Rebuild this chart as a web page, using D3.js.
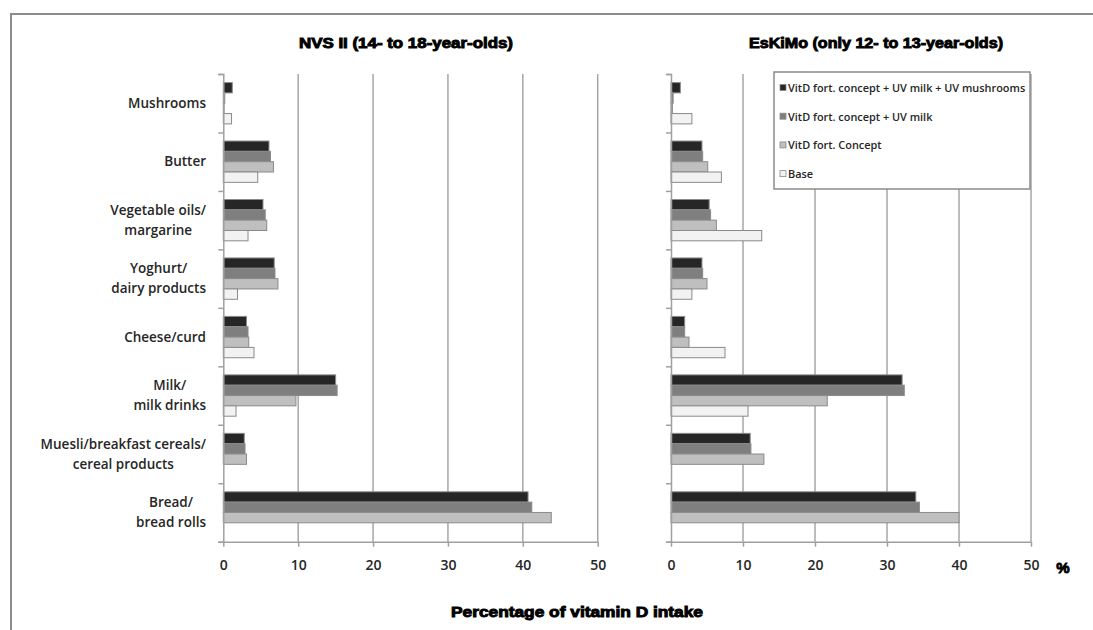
<!DOCTYPE html>
<html>
<head>
<meta charset="utf-8">
<script src="https://cdn.jsdelivr.net/npm/d3@7"></script>
<style>
  body { margin: 0; background: #fff; }
  svg { display: block; }
  .lbl { font-family: "Open Sans", sans-serif; font-weight: 600; fill: #262626; }
  .ttl { font-family: "Liberation Sans", Arial, sans-serif; font-weight: bold; fill: #000; stroke: #000; stroke-width: 0.9; }
</style>
</head>
<body>
<svg id="chart" width="1093" height="630"></svg>
<script>
const width = 1093;
const height = 630;

const categories = ["Mushrooms", "Butter", "Vegetable oils/\nmargarine", "Yoghurt/\ndairy products",
    "Cheese/curd", "Milk/\nmilk drinks", "Muesli/breakfast cereals/\ncereal products", "Bread/\nbread rolls"];
const seriesNames = ["VitD fort. concept + UV milk + UV mushrooms", "VitD fort. concept + UV milk",
    "VitD fort. Concept", "Base"];
const seriesColors = ["#262626", "#7f7f7f", "#bfbfbf", "#f2f2f2"];
const xTicks = [0, 10, 20, 30, 40, 50];

// NVS II (14- to 18-year-olds)
const nvsFull    = [1.2, 6.1, 5.3, 6.8, 3.1, 15.0, 2.8, 40.7];
const nvsMilk    = [0.2, 6.3, 5.6, 6.9, 3.3, 15.2, 2.9, 41.2];
const nvsConcept = [0.1, 6.7, 5.8, 7.3, 3.4, 9.7, 3.1, 43.8];
const nvsBase    = [1.1, 4.6, 3.3, 1.9, 4.1, 1.7, 0, 0];

// EsKiMo (only 12- to 13-year-olds)
const eskFull    = [1.3, 4.3, 5.3, 4.3, 1.9, 32.1, 11.0, 34.0];
const eskMilk    = [0.3, 4.4, 5.5, 4.4, 1.9, 32.4, 11.1, 34.5];
const eskConcept = [0.2, 5.1, 6.3, 5.0, 2.5, 21.7, 12.9, 40.0];
const eskBase    = [2.9, 7.0, 12.6, 2.9, 7.5, 10.7, 0, 0];

const svg = d3.select("#chart");

// outer frame (only top and left visible)
svg.append("path")
    .attr("d", `M11,${height} V14 H${width}`)
    .attr("fill", "none")
    .attr("stroke", "#8c8c8c")
    .attr("stroke-width", 2);

const plotTop = 74, plotBottom = 541.7;

const y = d3.scaleBand().domain(categories).range([plotTop, plotBottom]).padding(0);
const ySub = d3.scaleBand().domain(d3.range(4)).range([0, y.bandwidth()]).paddingInner(0).paddingOuter(0.83);
const yEdges = d3.scaleLinear().domain([0, categories.length]).range([plotTop, plotBottom]);

function drawPanel(x, data, title, tpos) {
    const g = svg.append("g");

    // gridlines
    g.selectAll("line.grid")
        .data(xTicks.filter(t => t > 0))
        .enter().append("line")
        .attr("x1", d => x(d)).attr("x2", d => x(d))
        .attr("y1", plotTop).attr("y2", plotBottom)
        .attr("stroke", "#a6a6a6").attr("stroke-width", 1.5);

    // bars
    categories.forEach((c, i) => {
        g.selectAll(null)
            .data(data.map((s, k) => ({ k, v: s[i] })))
            .enter().append("rect")
            .attr("x", x(0))
            .attr("y", d => y(c) + ySub(d.k))
            .attr("width", d => x(d.v) - x(0))
            .attr("height", ySub.bandwidth())
            .attr("fill", d => seriesColors[d.k])
            .attr("stroke", d => d.v > 0 ? "#8a8a8a" : "none")
            .attr("stroke-width", 1);
    });

    // y axis (ticks at category boundaries, no labels)
    const ya = g.append("g")
        .attr("transform", `translate(${x(0)},0)`)
        .call(d3.axisLeft(yEdges).tickValues(d3.range(categories.length + 1)).tickSize(5).tickFormat(""));
    ya.selectAll("line, path").attr("stroke", "#a0a0a0").attr("stroke-width", 1.5);

    // x axis
    const xa = g.append("g")
        .attr("transform", `translate(0,${plotBottom})`)
        .call(d3.axisBottom(x).tickValues(xTicks).tickSize(5).tickPadding(13).tickSizeOuter(0));
    xa.selectAll("line, path").attr("stroke", "#a0a0a0").attr("stroke-width", 1.5);
    xa.selectAll("text")
        .attr("class", "lbl")
        .style("font-size", "14px");

    // panel title
    svg.append("text")
        .attr("class", "ttl")
        .attr("x", tpos.cx)
        .attr("y", 48)
        .attr("text-anchor", "middle")
        .attr("textLength", tpos.w)
        .attr("lengthAdjust", "spacingAndGlyphs")
        .style("font-size", "14px")
        .text(title);
}

const xLeft = d3.scaleLinear().domain([0, 50]).range([223.3, 597.7]);
const xRight = d3.scaleLinear().domain([0, 50]).range([671, 1031]);

drawPanel(xLeft, [nvsFull, nvsMilk, nvsConcept, nvsBase], "NVS II (14- to 18-year-olds)", { cx: 406, w: 214 });
drawPanel(xRight, [eskFull, eskMilk, eskConcept, eskBase], "EsKiMo (only 12- to 13-year-olds)", { cx: 876, w: 254 });

// category labels: lines centred on each other, block right-aligned
const labelRight = 206;
categories.forEach(c => {
    const lines = c.split("\n");
    const t = svg.append("text")
        .attr("class", "lbl")
        .attr("text-anchor", "middle")
        .style("font-size", "13.5px");
    const cy = y(c) + y.bandwidth() / 2 - (lines.length - 1) * 10;
    lines.forEach((l, j) => {
        t.append("tspan").attr("y", cy + j * 20).attr("dy", "0.35em").text(l);
    });
    let maxW = 0;
    t.selectAll("tspan").each(function () { maxW = Math.max(maxW, this.getComputedTextLength()); });
    t.selectAll("tspan").attr("x", labelRight - maxW / 2);
});

// legend
const lg = svg.append("g");
lg.append("rect")
    .attr("x", 774).attr("y", 72).attr("width", 256).attr("height", 117)
    .attr("fill", "#fff").attr("stroke", "#8c8c8c").attr("stroke-width", 1.5);
seriesNames.forEach((s, i) => {
    const yy = 88 + i * 28.7;
    lg.append("rect")
        .attr("x", 780).attr("y", yy - 3.5).attr("width", 6).attr("height", 6)
        .attr("fill", seriesColors[i]).attr("stroke", "#8a8a8a").attr("stroke-width", 0.8);
    lg.append("text")
        .attr("class", "lbl")
        .attr("x", 788).attr("y", yy).attr("dy", "0.35em")
        .style("font-size", "10.9px")
        .text(s);
});

// unit and axis title
svg.append("text")
    .attr("class", "ttl")
    .attr("x", 1063).attr("y", 568).attr("dy", "0.35em")
    .attr("text-anchor", "middle")
    .style("font-size", "15px")
    .text("%");

svg.append("text")
    .attr("class", "ttl")
    .attr("x", 577).attr("y", 617)
    .attr("text-anchor", "middle")
    .attr("textLength", 252)
    .attr("lengthAdjust", "spacingAndGlyphs")
    .style("font-size", "14px")
    .text("Percentage of vitamin D intake");
</script>
</body>
</html>
